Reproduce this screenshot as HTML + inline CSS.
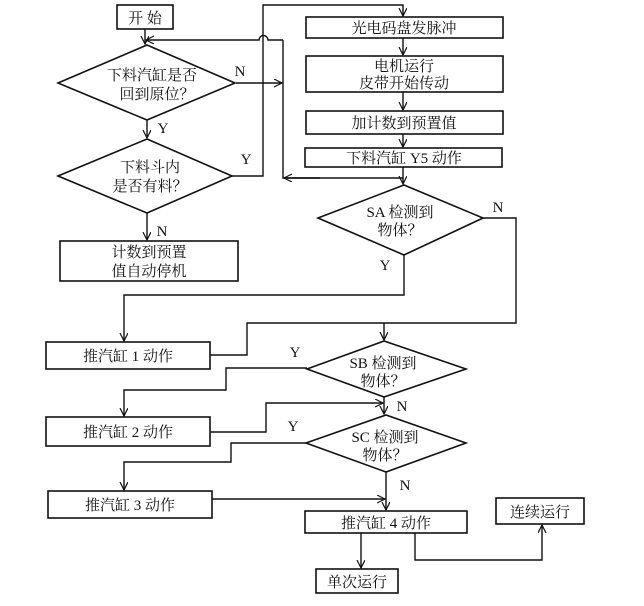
<!DOCTYPE html>
<html><head><meta charset="utf-8"><style>
html,body{margin:0;padding:0;background:#fff;}
svg text{font-family:"Liberation Serif","Noto Serif CJK SC",serif;font-size:15px;fill:#111;}
</style></head><body>
<svg width="644" height="601" viewBox="0 0 644 601" xmlns="http://www.w3.org/2000/svg">
<defs><marker id="a" markerWidth="10" markerHeight="10" refX="8" refY="4" orient="auto" markerUnits="userSpaceOnUse"><path d="M0,0 L8,4 L0,8" fill="none" stroke="#111" stroke-width="1.2"/></marker></defs>
<g fill="none" stroke="#111" stroke-width="1.6">
<rect x="117" y="5" width="56" height="24"/>
<polygon points="58,83 147,45 235,83 147,120"/>
<polygon points="58,176 147,139 232,176 147,213"/>
<rect x="60" y="241" width="178" height="40"/>
<rect x="306" y="17" width="197" height="21"/>
<rect x="306" y="56" width="197" height="36"/>
<rect x="306" y="111" width="197" height="23"/>
<rect x="305" y="148" width="197" height="19"/>
<polygon points="318,218 404,185 483,218 404,255"/>
<rect x="46" y="342" width="164" height="27"/>
<polygon points="307,369 384,341 466,369 384,397"/>
<rect x="46" y="417" width="164" height="29"/>
<polygon points="306,443 386,415 466,443 386,472"/>
<rect x="48" y="491" width="164" height="27"/>
<rect x="305" y="511" width="162" height="22"/>
<rect x="316" y="569" width="82" height="24"/>
<rect x="496" y="498" width="88" height="26"/>
</g>
<g fill="none" stroke="#111" stroke-width="1.4">
<path d="M145,29 V44" marker-end="url(#a)"/>
<path d="M147,120 V138" marker-end="url(#a)"/>
<path d="M147,213 V240" marker-end="url(#a)"/>
<path d="M236,83 H282" marker-end="url(#a)"/>
<path d="M232,176 H263 V5 H403 V16" marker-end="url(#a)"/>
<path d="M283,40 H268 A4,4 0 0 0 259,40 H146" marker-end="url(#a)"/>
<path d="M403,167 V178 H283 V40"/>
<path d="M320,178 H284" marker-end="url(#a)"/>
<path d="M403,38 V55" marker-end="url(#a)"/>
<path d="M403,92 V110" marker-end="url(#a)"/>
<path d="M403,134 V147" marker-end="url(#a)"/>
<path d="M403,178 V184" marker-end="url(#a)"/>
<path d="M404,255 V295 H124 V341" marker-end="url(#a)"/>
<path d="M483,218 H516 V323 H247 V355 H210"/>
<path d="M384,323 V340" marker-end="url(#a)"/>
<path d="M307,368 H226 V390 H124 V416" marker-end="url(#a)"/>
<path d="M384,397 V414" marker-end="url(#a)"/>
<path d="M210,432 H266 V403 H383" marker-end="url(#a)"/>
<path d="M306,443 H231 V462 H124 V490" marker-end="url(#a)"/>
<path d="M386,472 V510" marker-end="url(#a)"/>
<path d="M212,499 H385" marker-end="url(#a)"/>
<path d="M361,533 V568" marker-end="url(#a)"/>
<path d="M415,533 V560 H542 V525" marker-end="url(#a)"/>
</g>
<g text-anchor="middle">
<text x="145" y="23">开 始</text>
<text x="152" y="80">下料汽缸是否</text>
<text x="157" y="99">回到原位？</text>
<text x="150" y="172">下料斗内</text>
<text x="150" y="191">是否有料？</text>
<text x="149" y="257">计数到预置</text>
<text x="149" y="276">值自动停机</text>
<text x="404" y="33">光电码盘发脉冲</text>
<text x="404" y="71">电机运行</text>
<text x="404" y="88">皮带开始传动</text>
<text x="404" y="128">加计数到预置值</text>
<text x="404" y="163">下料汽缸 Y5 动作</text>
<text x="400" y="217">SA 检测到</text>
<text x="400" y="235">物体？</text>
<text x="128" y="361">推汽缸 1 动作</text>
<text x="383" y="368">SB 检测到</text>
<text x="383" y="386">物体？</text>
<text x="128" y="437">推汽缸 2 动作</text>
<text x="385" y="442">SC 检测到</text>
<text x="385" y="460">物体？</text>
<text x="130" y="510">推汽缸 3 动作</text>
<text x="386" y="528">推汽缸 4 动作</text>
<text x="357" y="587">单次运行</text>
<text x="540" y="517">连续运行</text>
<text x="240" y="76">N</text>
<text x="163" y="133">Y</text>
<text x="246" y="164">Y</text>
<text x="162" y="236">N</text>
<text x="498" y="212">N</text>
<text x="385" y="270">Y</text>
<text x="295" y="357">Y</text>
<text x="402" y="411">N</text>
<text x="293" y="431">Y</text>
<text x="405" y="490">N</text>
</g>
</svg>
</body></html>
